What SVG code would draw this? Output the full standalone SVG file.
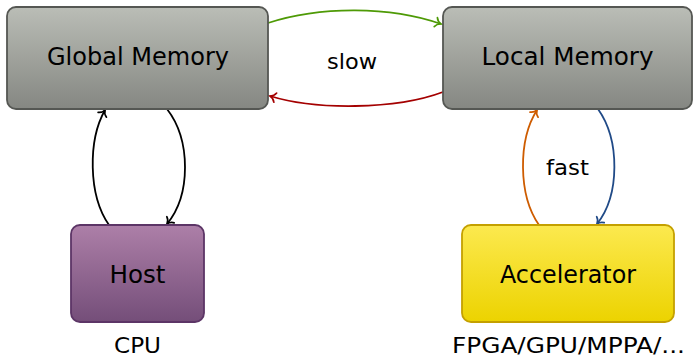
<svg xmlns="http://www.w3.org/2000/svg" width="693" height="359" viewBox="0 0 693 359">
<defs>
<linearGradient id="gGray" x1="0" y1="0" x2="0" y2="1"><stop offset="0" stop-color="#babdb6"/><stop offset="1" stop-color="#858782"/></linearGradient>
<linearGradient id="gPurple" x1="0" y1="0" x2="0" y2="1"><stop offset="0" stop-color="#ad7fa8"/><stop offset="1" stop-color="#744e79"/></linearGradient>
<linearGradient id="gYellow" x1="0" y1="0" x2="0" y2="1"><stop offset="0" stop-color="#fce94f"/><stop offset="1" stop-color="#ecd300"/></linearGradient>
<marker id="aBlack" viewBox="-7 -6 9 12" refX="0" refY="0" markerWidth="9" markerHeight="12" markerUnits="userSpaceOnUse" orient="auto"><path d="M-5.5,-4.8 C-4.2,-1.8 -1.8,-0.5 0,0 C-1.8,0.5 -4.2,1.8 -5.5,4.8" fill="none" stroke="#000" stroke-width="1.7" stroke-linecap="round"/></marker>
<marker id="aGreen" viewBox="-7 -6 9 12" refX="0" refY="0" markerWidth="9" markerHeight="12" markerUnits="userSpaceOnUse" orient="auto"><path d="M-5.5,-4.8 C-4.2,-1.8 -1.8,-0.5 0,0 C-1.8,0.5 -4.2,1.8 -5.5,4.8" fill="none" stroke="#4e9a06" stroke-width="1.7" stroke-linecap="round"/></marker>
<marker id="aRed" viewBox="-7 -6 9 12" refX="0" refY="0" markerWidth="9" markerHeight="12" markerUnits="userSpaceOnUse" orient="auto"><path d="M-5.5,-4.8 C-4.2,-1.8 -1.8,-0.5 0,0 C-1.8,0.5 -4.2,1.8 -5.5,4.8" fill="none" stroke="#a40000" stroke-width="1.7" stroke-linecap="round"/></marker>
<marker id="aOrange" viewBox="-7 -6 9 12" refX="0" refY="0" markerWidth="9" markerHeight="12" markerUnits="userSpaceOnUse" orient="auto"><path d="M-5.5,-4.8 C-4.2,-1.8 -1.8,-0.5 0,0 C-1.8,0.5 -4.2,1.8 -5.5,4.8" fill="none" stroke="#ce5c00" stroke-width="1.7" stroke-linecap="round"/></marker>
<marker id="aBlue" viewBox="-7 -6 9 12" refX="0" refY="0" markerWidth="9" markerHeight="12" markerUnits="userSpaceOnUse" orient="auto"><path d="M-5.5,-4.8 C-4.2,-1.8 -1.8,-0.5 0,0 C-1.8,0.5 -4.2,1.8 -5.5,4.8" fill="none" stroke="#204a87" stroke-width="1.7" stroke-linecap="round"/></marker>
</defs>
<style>
text { font-family: "DejaVu Sans", "Liberation Sans", sans-serif; fill: #000; text-anchor: middle; }
.node { font-size: 25px; }
.lbl { font-size: 22px; }
.conn { fill: none; stroke-width: 1.8; }
.mem { fill: url(#gGray); stroke: #555753; stroke-width: 1.8; }
</style>
<g id="connectors">
<path class="conn" d="M268,23 C320,6 390,6 441,24" stroke="#4e9a06" marker-end="url(#aGreen)"/>
<path class="conn" d="M443,92 C395,110 315,110 270,96" stroke="#a40000" marker-end="url(#aRed)"/>
<path class="conn" d="M109,225 C88,195 88,140 105,110" stroke="#000" marker-end="url(#aBlack)"/>
<path class="conn" d="M167,109 C191,140 191,195 167,224" stroke="#000" marker-end="url(#aBlack)"/>
<path class="conn" d="M539,225 C518,195 518,140 537,110" stroke="#ce5c00" marker-end="url(#aOrange)"/>
<path class="conn" d="M598,109 C620,140 620,195 597,224" stroke="#204a87" marker-end="url(#aBlue)"/>
<text class="lbl" x="352" y="69" textLength="50" lengthAdjust="spacingAndGlyphs">slow</text>
<text class="lbl" x="567.5" y="175" textLength="43" lengthAdjust="spacingAndGlyphs">fast</text>
</g>
<g id="global-memory">
<rect class="mem" x="7" y="7" width="261" height="102" rx="9"/>
<text class="node" x="138" y="65" textLength="182" lengthAdjust="spacingAndGlyphs">Global Memory</text>
</g>
<g id="local-memory">
<rect class="mem" x="443" y="7" width="249" height="102" rx="9"/>
<text class="node" x="567.5" y="65" textLength="172" lengthAdjust="spacingAndGlyphs">Local Memory</text>
</g>
<g id="host">
<rect x="71" y="225" width="133" height="97" rx="9" fill="url(#gPurple)" stroke="#5c3566" stroke-width="1.8"/>
<text class="node" x="137.5" y="283" textLength="56" lengthAdjust="spacingAndGlyphs">Host</text>
<text class="lbl" x="137.5" y="353" textLength="47" lengthAdjust="spacingAndGlyphs">CPU</text>
</g>
<g id="accelerator">
<rect x="462" y="225" width="212" height="97" rx="9" fill="url(#gYellow)" stroke="#c4a000" stroke-width="1.8"/>
<text class="node" x="568" y="283" textLength="136" lengthAdjust="spacingAndGlyphs">Accelerator</text>
<text class="lbl" x="568.5" y="353" textLength="233" lengthAdjust="spacingAndGlyphs">FPGA/GPU/MPPA/...</text>
</g>
</svg>
